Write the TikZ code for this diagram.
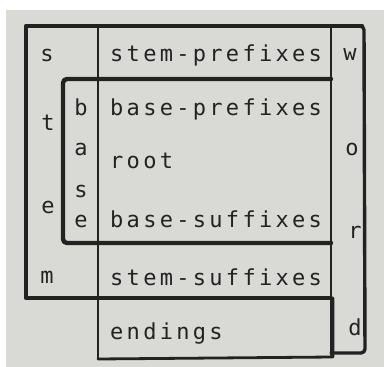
\documentclass[tikz,border=0pt]{standalone}
\usepackage{fontspec}
\newfontfamily\typew[LetterSpace=15]{DejaVu Sans Mono}
\begin{document}
\begin{tikzpicture}[x=1pt,y=-1pt,
  ink/.style={draw=inkc,line cap=round,line join=round},
  heavy/.style={ink,line width=4.4pt},
  medium/.style={ink,line width=2.8pt},
  light/.style={ink,line width=1.4pt},
  lbl/.style={anchor=base west,inner sep=0pt,text=inkc,font=\typew\fontsize{22}{22}\selectfont},
  ltr/.style={anchor=base,inner sep=0pt,text=inkc,font=\typew\fontsize{22}{22}\selectfont}]
\definecolor{inkc}{HTML}{222222}
\definecolor{paper}{HTML}{D9D9D6}
\useasboundingbox (0,0) rectangle (384,367);
\fill[white] (0,0) rectangle (384,367);
\fill[paper] (6,10) rectangle (384,367);
% thin column divider
\draw[light] (98,26) -- (98,359);
% endings box
\draw[medium] (98,359) -- (333,357) -- (333,298);
% word column
\draw[medium] (331,26) -- (331,355);
\draw[ink,line width=3.4pt,rounded corners=4pt] (331,26) -- (364,26) -- (365,353) -- (331,353);
% stem box
\draw[heavy] (331,298) -- (26,298) -- (26,26) -- (362,26);
% base box
\draw[heavy,rounded corners=4pt] (331,79) -- (63,79) -- (63,243) -- (331,243);
% row labels
\node[lbl] (sp) at (110,61) {stem-prefixes};
\node[lbl] (bp) at (110,115) {base-prefixes};
\node[lbl] (rt) at (110,168) {root};
\node[lbl] (bs) at (110,227) {base-suffixes};
\node[lbl] (ss) at (110,285) {stem-suffixes};
\node[lbl] (en) at (110,339) {endings};
% stem letters
\node[ltr] (s1) at (47,61) {s};
\node[ltr] (t1) at (48,130) {t};
\node[ltr] (e1) at (48,213) {e};
\node[ltr] (m1) at (47,283) {m};
% base letters
\node[ltr] (b2) at (81,115) {b};
\node[ltr] (a2) at (81,155) {a};
\node[ltr] (s2) at (81,197) {s};
\node[ltr] (e2) at (81,227) {e};
% word letters
\node[ltr] (w3) at (350,60) {w};
\node[ltr] (o3) at (352,155) {o};
\node[ltr] (r3) at (355,238) {r};
\node[ltr] (d3) at (355,335) {d};
\end{tikzpicture}
\end{document}
